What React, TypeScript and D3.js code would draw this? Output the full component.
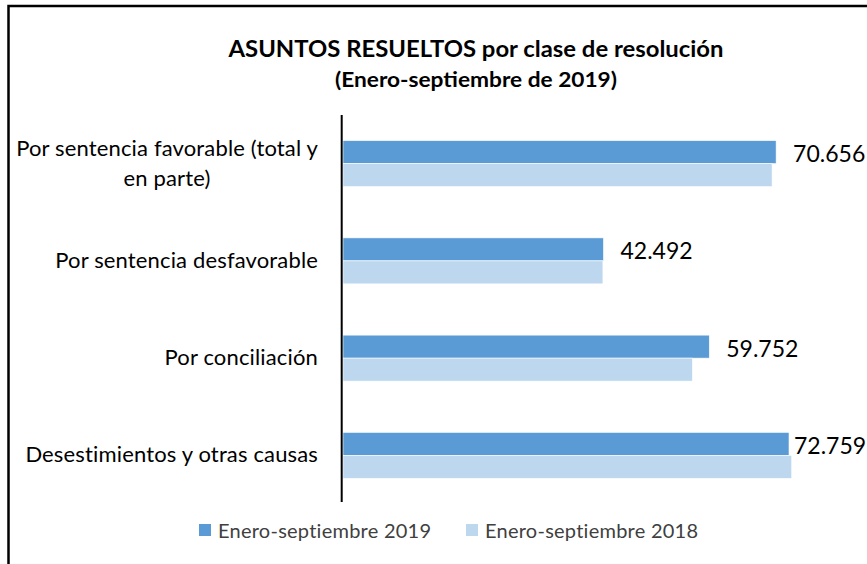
import React from 'react';
import * as d3 from 'd3';

// datos (asuntos resueltos, enero-septiembre)
const categories = [
  'Por sentencia favorable (total y en parte)',
  'Por sentencia desfavorable',
  'Por conciliación',
  'Desestimientos y otras causas',
];
const seriesNames = ['Enero-septiembre 2019', 'Enero-septiembre 2018'];
const values2019 = [70656, 42492, 59752, 72759];
const values2018 = [70000, 42400, 57000, 73200];
const seriesColors = ['#5B9BD5', '#BDD7EE'];

const W = 867, H = 564;
const FONT = 'Lato, "Open Sans", sans-serif';

const esLocale = d3.formatLocale({decimal: ',', thousands: '.', grouping: [3], currency: ['', ' €']});
const fmt = esLocale.format(',d');

// parte la etiqueta en líneas de ~32 caracteres
function wrap(text: string, maxChars = 32) {
  const words = text.split(' ');
  const lines: string[] = [];
  let cur = '';
  words.forEach(w => {
    const next = cur ? cur + ' ' + w : w;
    if (next.length > maxChars && cur) {
      lines.push(cur);
      cur = w;
    } else cur = next;
  });
  if (cur) lines.push(cur);
  return lines;
}

export default function App() {
  const x = d3.scaleLinear().domain([0, 80000]).range([343, 833.4]);
  const y = d3.scaleBand<string>().domain(categories).range([115, 504]).paddingInner(0.527).paddingOuter(0.2635);
  const inner = d3.scaleBand<string>().domain(seriesNames).range([0, y.bandwidth()]);
  const data = [values2019, values2018];
  const labelRight = 318;

  return (
    <svg width={W} height={H} style={{position: 'absolute', left: 0, top: 0, background: '#fff'}}>
      <rect x={0} y={0} width={W} height={H} fill="#fff"/>
      {/* marco */}
      <path d={`M${W},6 H8.5 V${H}`} fill="none" stroke="#000" strokeWidth={2.5}/>

      <text x={476} y={57} textAnchor="middle" fontFamily={FONT} fontWeight="bold" fontSize={23} fill="#000"
            textLength={495} lengthAdjust="spacingAndGlyphs">
        ASUNTOS RESUELTOS  por clase de resolución
      </text>
      <text x={476} y={87} textAnchor="middle" fontFamily={FONT} fontWeight="bold" fontSize={21} fill="#000"
            textLength={282} lengthAdjust="spacingAndGlyphs">
        (Enero-septiembre de 2019)
      </text>

      {categories.map((c, i) => (
        <g key={c}>
          {seriesNames.map((s, j) => (
            <rect key={s}
                  x={x(0)}
                  y={(y(c) as number) + (inner(s) as number)}
                  width={x(data[j][i]) - x(0)}
                  height={inner.bandwidth()}
                  fill={seriesColors[j]}
                  stroke="#fff" strokeWidth={0.6}/>
          ))}
          <text x={Math.min(x(values2019[i]) + 17, W - 73)}
                y={(y(c) as number) + inner.bandwidth() / 2 + 10}
                fontFamily={FONT} fontSize={23} fill="#000">
            {fmt(values2019[i])}
          </text>
        </g>
      ))}

      {categories.map(c => {
        const cy = (y(c) as number) + y.bandwidth() / 2;
        const lines = wrap(c);
        const lh = 30;
        const base = cy + 7 - (lines.length - 1) * lh / 2;
        const center = labelRight - 151;
        return (
          <g key={'l' + c}>
            {lines.map((ln, k) => (
              <text key={k}
                    x={k === 0 ? labelRight : center}
                    y={base + k * lh}
                    textAnchor={k === 0 ? 'end' : 'middle'}
                    fontFamily={FONT} fontSize={22} letterSpacing={0.15} fill="#000">
                {ln}
              </text>
            ))}
          </g>
        );
      })}

      <line x1={341.7} x2={341.7} y1={115} y2={502} stroke="#000" strokeWidth={2}/>

      {seriesNames.map((s, j) => {
        const lx = [199, 466][j];
        return (
          <g key={s}>
            <rect x={lx} y={524} width={12} height={12} fill={seriesColors[j]}/>
            <text x={lx + 19} y={538} fontFamily={FONT} fontSize={20} letterSpacing={0.25} fill="#404040">{s}</text>
          </g>
        );
      })}
    </svg>
  );
}
